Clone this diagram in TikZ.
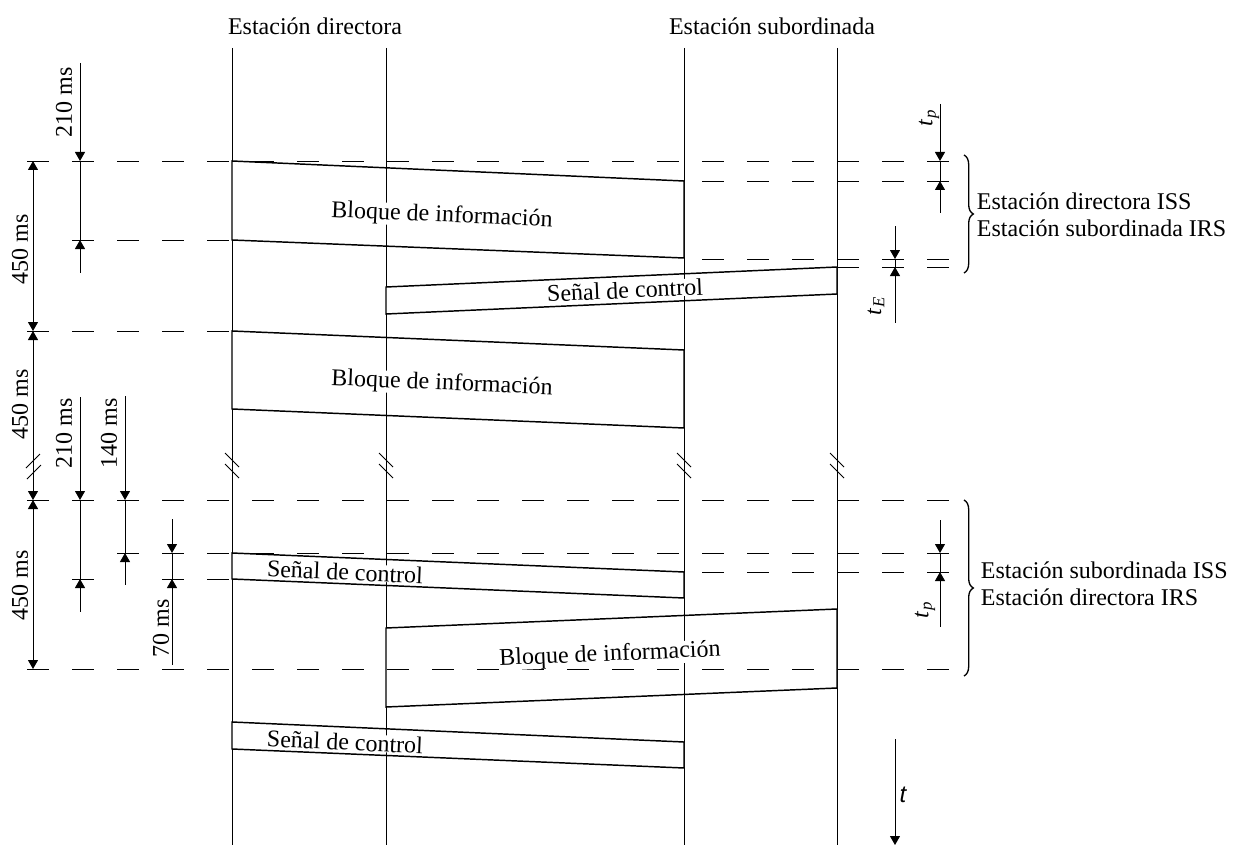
\documentclass[tikz,border=0pt]{standalone}
\usepackage{fontspec}
\setmainfont{Liberation Serif}
\newfontfamily\lsans{Liberation Sans}
\usetikzlibrary{arrows.meta,decorations.pathreplacing}
\begin{document}
\begin{tikzpicture}[x=0.75pt,y=-0.75pt,
  >={Triangle[length=6.75pt,width=7.5pt]},
  sl/.style={line width=0.7pt},
  bx/.style={line width=1.1pt,line join=miter},
  dl/.style={line width=0.7pt,dash pattern=on 16.5pt off 17.25pt},
  dim/.style={line width=0.7pt},
  brk/.style={line width=0.7pt},
  lbl/.style={font=\fontsize{18}{20}\selectfont,inner sep=0.5pt},
  btxt/.style={lbl,fill=white,inner sep=0pt},
  brc/.style={line width=1pt,decorate,decoration={brace,amplitude=7pt}}]
\useasboundingbox (0,0) rectangle (1249,845);

% titles
\node[lbl] (tdir) at (315,26) {Estación directora};
\node[lbl] (tsub) at (772,26) {Estación subordinada};

% station lines
\foreach \x in {232,386,684,837}{
  \draw[sl] (\x,48) -- (\x,845);
  \draw[brk] (\x-7,453) -- (\x+7,467);
  \draw[brk] (\x-7,464) -- (\x+7,478);
}

% dashed reference lines
\draw[dl] (27,161) -- (950,161);
\draw[dl] (702,181) -- (950,181);
\draw[dl] (72,240) -- (232,240);
\draw[dl] (702,259) -- (950,259);
\draw[dl] (837,267) -- (950,267);
\draw[dl] (27,331) -- (232,331);
\draw[dl] (27,500) -- (950,500);
\draw[dl] (117,553) -- (950,553);
\draw[dl] (702,572) -- (950,572);
\draw[dl] (72,579) -- (95,579);
\draw[dl] (162,579) -- (232,579);
\draw[dl] (27,669) -- (950,669);

% block 1
\fill[white] (232,161) -- (684,181) -- (684,258) -- (232,240) -- cycle;
\draw[sl] (386,161) -- (386,250);
\node[btxt,rotate=-2.5] (b1) at (442,216) {Bloque de información};
\draw[bx] (232,161) -- (684,181) -- (684,258) -- (232,240) -- cycle;

% control 1
\fill[white] (386,287) -- (837,267) -- (837,294) -- (386,314) -- cycle;
\draw[sl] (684,270) -- (684,305);
\node[btxt,rotate=2.5] (s1) at (625,290) {Señal de control};
\draw[bx] (386,287) -- (837,267) -- (837,294) -- (386,314) -- cycle;

% block 2
\fill[white] (232,331) -- (684,350) -- (684,428) -- (232,409) -- cycle;
\draw[sl] (386,331) -- (386,420);
\node[btxt,rotate=-2.4] (b2) at (442,384) {Bloque de información};
\draw[bx] (232,331) -- (684,350) -- (684,428) -- (232,409) -- cycle;

% control 2
\fill[white] (232,553) -- (684,572) -- (684,598) -- (232,579) -- cycle;
\draw[sl] (386,555) -- (386,590);
\node[btxt,rotate=-2.4] (s2) at (345,572) {Señal de control};
\draw[bx] (232,553) -- (684,572) -- (684,598) -- (232,579) -- cycle;

% block 3
\fill[white] (386,628) -- (837,609) -- (837,688) -- (386,707) -- cycle;
\draw[sl] (684,609) -- (684,700);
\draw[dl] (387,669) -- (836,669);
\node[btxt,rotate=2.4] (b3) at (610,655) {Bloque de información};
\draw[bx] (386,628) -- (837,609) -- (837,688) -- (386,707) -- cycle;

% control 3
\fill[white] (232,722) -- (684,742) -- (684,768) -- (232,749) -- cycle;
\draw[sl] (386,722) -- (386,760);
\node[btxt,rotate=-2.5] (s3) at (345,742) {Señal de control};
\draw[bx] (232,722) -- (684,742) -- (684,768) -- (232,749) -- cycle;

% left dimensions
\draw[dim,<->] (33,161) -- (33,331);
\draw[dim,<->] (33,331) -- (33,500);
\draw[dim,<->] (33,500) -- (33,669);
\draw[brk] (26,468) -- (40,454);
\draw[brk] (27,479) -- (41,465);
\node[lbl,rotate=90] (d450a) at (20,249) {450 ms};
\node[lbl,rotate=90] (d450b) at (20,404) {450 ms};
\node[lbl,rotate=90] (d450c) at (20,585) {450 ms};

\draw[dim,->] (80,63) -- (80,161);
\draw[dim] (80,161) -- (80,240);
\draw[dim,<-] (80,240) -- (80,273);
\node[lbl,rotate=90] (d210a) at (64,102) {210 ms};

\draw[dim,->] (80,397) -- (80,500);
\draw[dim] (80,500) -- (80,579);
\draw[dim,<-] (80,579) -- (80,612);
\node[lbl,rotate=90] (d210b) at (64,433) {210 ms};

\draw[dim,->] (125,396) -- (125,500);
\draw[dim] (125,500) -- (125,553);
\draw[dim,<-] (125,553) -- (125,585);
\node[lbl,rotate=90] (d140) at (109,433) {140 ms};

\draw[dim,->] (172,519) -- (172,553);
\draw[dim] (172,553) -- (172,579);
\draw[dim,<-] (172,579) -- (172,665);
\node[lbl,rotate=90] (d70) at (161,628) {70 ms};

% right dimensions
\draw[dim,->] (940,104) -- (940,161);
\draw[dim] (940,161) -- (940,181);
\draw[dim,<-] (940,181) -- (940,213);
\node[lbl,rotate=90] (tp1) at (929,118) {\textit{t}\textsubscript{\textit{p}}};

\draw[dim,->] (895,226) -- (895,259);
\draw[dim] (895,259) -- (895,267);
\draw[dim,<-] (895,267) -- (895,323);
\node[lbl,rotate=90] (tE) at (876,306) {\textit{t}\textsubscript{\textit{E}}};

\draw[dim,->] (940,520) -- (940,553);
\draw[dim] (940,553) -- (940,572);
\draw[dim,<-] (940,572) -- (940,627);
\node[lbl,rotate=90] (tp2) at (925,610) {\textit{t}\textsubscript{\textit{p}}};

\draw[dim,->] (895,739) -- (895,845);
\node[lbl] (tt) at (903,795) {\lsans\itshape t};

% braces and labels
\draw[brc] (964,155) -- (964,273);
\node[lbl,anchor=west,align=left] (g1) at (976,215) {Estación directora ISS\\Estación subordinada IRS};
\draw[brc] (964,500) -- (964,676);
\node[lbl,anchor=west,align=left] (g2) at (980,584) {Estación subordinada ISS\\Estación directora IRS};
\end{tikzpicture}
\end{document}
